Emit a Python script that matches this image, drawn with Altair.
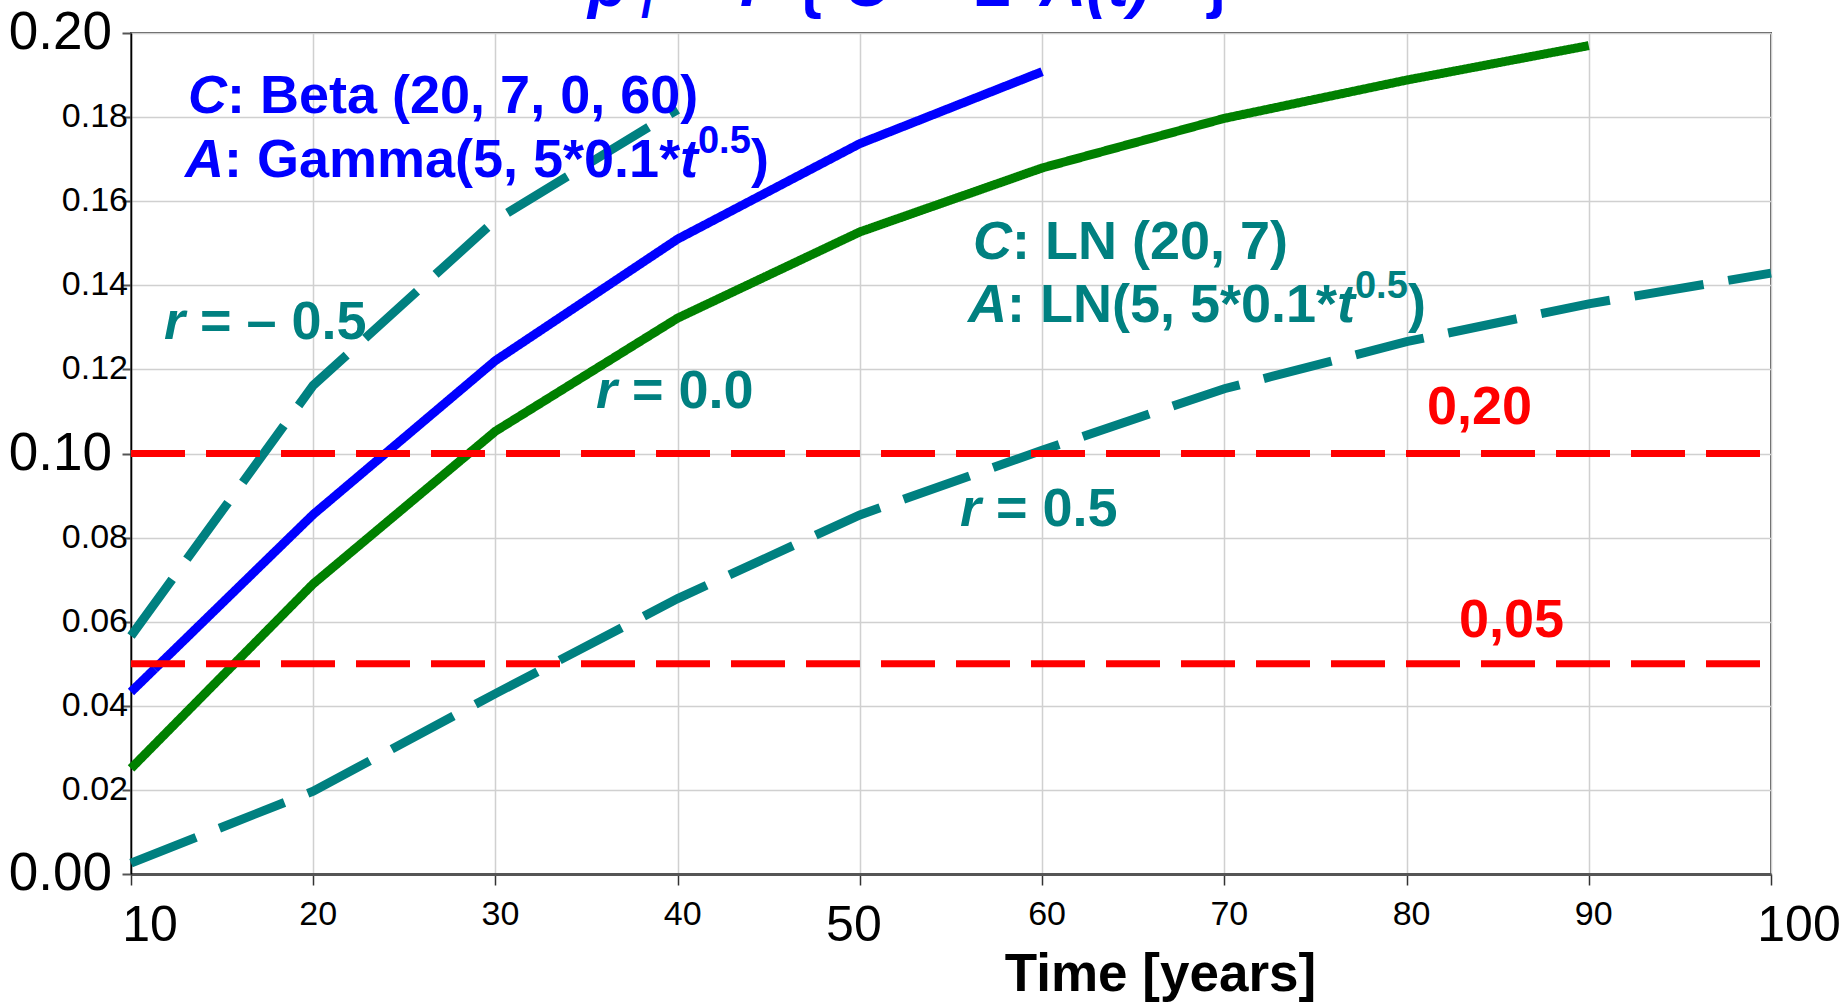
import altair as alt
import pandas as pd

FONT = "Liberation Sans"

# ---------------- data ----------------
years = [10, 20, 30, 40, 50, 60, 70, 80, 90, 100]
beta_gamma = [0.0433, 0.0855, 0.1221, 0.1510, 0.1737, 0.1908]            # years 10..60 (blue)
ln_r00 = [0.0251, 0.0690, 0.1053, 0.1322, 0.1527, 0.1679, 0.1797, 0.1888, 0.1970]  # 10..90 (green)
ln_rneg = [0.0566, 0.1162, 0.1555, 0.1818]                                # 10..40 (teal dashed)
ln_rpos = [0.0026, 0.0197, 0.0429, 0.0655, 0.0854, 0.1008, 0.1154, 0.1266, 0.1356, 0.1429]  # 10..100

series_names = ["Beta/Gamma", "LN r=0.0", "LN r=-0.5", "LN r=0.5"]
series_colors = ["#0000ff", "#008000", "#008080", "#008080"]
series_dashes = [[1, 0], [1, 0], [70, 25], [70, 25]]

thresholds = [0.10, 0.05]
x_ticks = [10, 20, 30, 40, 50, 60, 70, 80, 90, 100]
y_ticks = [0.0, 0.02, 0.04, 0.06, 0.08, 0.10, 0.12, 0.14, 0.16, 0.18, 0.20]
x_small_labels = [20, 30, 40, 60, 70, 80, 90]
y_small_labels = [0.02, 0.04, 0.06, 0.08, 0.12, 0.14, 0.16, 0.18]
y_big_labels = [0.0, 0.10, 0.20]

rows = []
for name, vals in zip(series_names, [beta_gamma, ln_r00, ln_rneg, ln_rpos]):
    for t, v in zip(years, vals):
        rows.append({"series": name, "year": t, "pf": v})
df = pd.DataFrame(rows)
thr = pd.DataFrame({"y": thresholds, "x0": [10, 10], "x1": [100, 100]})

xscale = alt.Scale(domain=[10, 100], nice=False, zero=False)
yscale = alt.Scale(domain=[0, 0.2], nice=False, zero=False)

xaxis = alt.Axis(
    values=x_ticks, labels=False, title="Time [years]",
    tickSize=11, tickColor="#333333", tickWidth=1.5,
    domainColor="#555555", domainWidth=3,
    grid=True, gridColor="#d0d0d0", gridWidth=1.5,
    titleFont=FONT, titleFontSize=53, titleFontWeight="bold", titleColor="black",
    titleX=1029, titleY=116, titleAlign="center", titleBaseline="alphabetic",
)
yaxis = alt.Axis(
    values=y_ticks, labels=False, title=" ",
    tickSize=9, tickColor="#555555", tickWidth=2,
    domainColor="black", domainWidth=1.5,
    grid=True, gridColor="#d0d0d0", gridWidth=1.5,
)

lines = alt.Chart(df).mark_line(strokeWidth=9).encode(
    x=alt.X("year:Q", scale=xscale, axis=xaxis),
    y=alt.Y("pf:Q", scale=yscale, axis=yaxis),
    color=alt.Color("series:N", scale=alt.Scale(domain=series_names, range=series_colors), legend=None),
    strokeDash=alt.StrokeDash("series:N", scale=alt.Scale(domain=series_names, range=series_dashes), legend=None),
)

rules = alt.Chart(thr).mark_rule(strokeWidth=7, strokeDash=[54, 21], color="#ff0000").encode(
    x=alt.X("x0:Q", scale=xscale, axis=xaxis),
    x2="x1:Q",
    y=alt.Y("y:Q", scale=yscale, axis=yaxis),
)


def xlabels(vals, size, dx, dy):
    d = pd.DataFrame({"x": vals, "y": [0.0] * len(vals)})
    return alt.Chart(d).mark_text(
        align="center", baseline="top", font=FONT, fontSize=size, color="black", dx=dx, dy=dy,
    ).encode(
        x=alt.X("x:Q", scale=xscale, axis=xaxis),
        y=alt.Y("y:Q", scale=yscale, axis=yaxis),
        text=alt.Text("x:Q", format="d"),
    )


def ylabels(vals, size, dx):
    d = pd.DataFrame({"y": vals, "x": [10] * len(vals)})
    return alt.Chart(d).mark_text(
        align="right", baseline="middle", font=FONT, fontSize=size, color="black", dx=dx,
    ).encode(
        x=alt.X("x:Q", scale=xscale, axis=xaxis),
        y=alt.Y("y:Q", scale=yscale, axis=yaxis),
        text=alt.Text("y:Q", format=".2f"),
    )


tick_labels = [
    xlabels(x_small_labels, 34, 5, 24),
    xlabels([10], 50, 19, 27),
    xlabels([50], 50, -6, 27),
    xlabels([100], 50, 28, 27),
    ylabels(y_small_labels, 34, -3),
    ylabels(y_big_labels, 53, -19),
]


def txt(x, y, text, color, size=54, style="normal", dx=0, dy=0):
    d = pd.DataFrame({"x": [x], "y": [y], "t": [text]})
    return alt.Chart(d).mark_text(
        align="left", baseline="alphabetic", font=FONT, fontSize=size,
        fontStyle=style, fontWeight="bold", color=color, dx=dx, dy=dy,
    ).encode(
        x=alt.X("x:Q", scale=xscale, axis=xaxis),
        y=alt.Y("y:Q", scale=yscale, axis=yaxis),
        text="t:N",
    )


BLUE, TEAL, RED = "#0000ff", "#008080", "#ff0000"
texts = [
    # blue annotation
    txt(13.13, 0.18097, "C", BLUE, style="italic"),
    txt(13.13, 0.18097, ": Beta (20, 7, 0, 60)", BLUE, dx=39),
    txt(12.96, 0.16575, "A", BLUE, style="italic"),
    txt(12.96, 0.16575, ": Gamma(5, 5*0.1*", BLUE, dx=39),
    txt(12.96, 0.16575, "t", BLUE, style="italic", dx=495),
    txt(12.96, 0.16575, "0.5", BLUE, size=38, dx=513, dy=-24),
    txt(12.96, 0.16575, ")", BLUE, dx=566),
    # teal annotation
    txt(56.21, 0.14625, "C", TEAL, style="italic"),
    txt(56.21, 0.14625, ": LN (20, 7)", TEAL, dx=39),
    txt(55.93, 0.13127, "A", TEAL, style="italic"),
    txt(55.93, 0.13127, ": LN(5, 5*0.1*", TEAL, dx=39),
    txt(55.93, 0.13127, "t", TEAL, style="italic", dx=369),
    txt(55.93, 0.13127, "0.5", TEAL, size=38, dx=387, dy=-24),
    txt(55.93, 0.13127, ")", TEAL, dx=440),
    # correlation labels
    txt(11.81, 0.12723, "r", TEAL, style="italic"),
    txt(11.81, 0.12723, "= – 0.5", TEAL, dx=36),
    txt(35.52, 0.11082, "r", TEAL, style="italic"),
    txt(35.52, 0.11082, "= 0.0", TEAL, dx=36),
    txt(55.49, 0.08276, "r", TEAL, style="italic"),
    txt(55.49, 0.08276, "= 0.5", TEAL, dx=36),
    # threshold labels
    txt(81.12, 0.10701, "0,20", RED),
    txt(82.88, 0.05636, "0,05", RED),
    # title (mostly above the canvas)
    txt(35.08, 0.20642, "p", BLUE, size=64, style="italic"),
    txt(37.93, 0.20357, "f", BLUE, size=42, style="italic"),
    txt(40.40, 0.20642, "= P", BLUE, size=64, style="italic"),
    txt(46.55, 0.20642, "{", BLUE, size=64),
    txt(49.13, 0.20642, "C", BLUE, size=64, style="italic"),
    txt(56.32, 0.20642, "≤", BLUE, size=64),
    txt(59.88, 0.20642, "A(t)", BLUE, size=64, style="italic"),
    txt(68.94, 0.20642, "}", BLUE, size=64),
]

chart = alt.layer(lines, rules, *tick_labels, *texts).properties(
    width=1640, height=841,
    autosize=alt.AutoSizeParams(type="none"),
    padding={"left": 131, "top": 33, "right": 75, "bottom": 130},
    background="white",
).configure_view(stroke="#555555", strokeWidth=2)

chart.save("out.html", embed_options={"renderer": "svg", "actions": False})
